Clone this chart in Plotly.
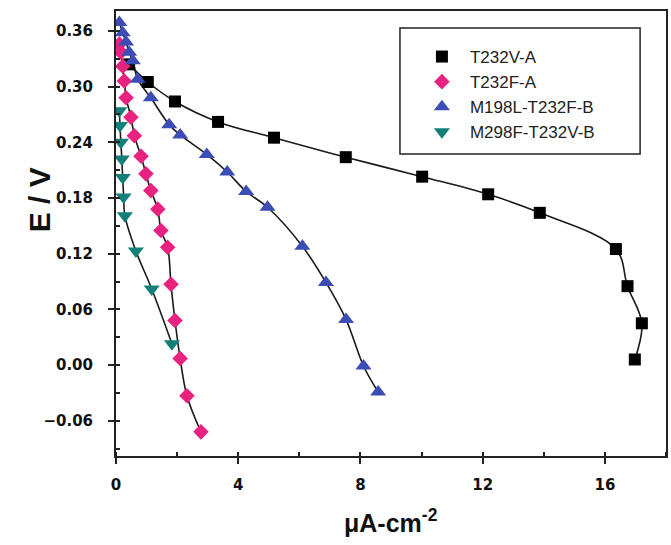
import plotly.graph_objects as go

# T232V-A (black squares)
t232v_x = [0.43, 1.04, 1.93, 3.34, 5.17, 7.52, 10.02, 12.18, 13.87, 16.36, 16.74, 17.21, 16.98]
t232v_y = [0.324, 0.305, 0.284, 0.262, 0.245, 0.224, 0.203, 0.184, 0.164, 0.125, 0.085, 0.045, 0.006]

# T232F-A (pink diamonds)
t232f_x = [0.11, 0.16, 0.22, 0.27, 0.33, 0.49, 0.60, 0.82, 0.98, 1.14, 1.37, 1.47, 1.69, 1.80, 1.93, 2.10, 2.32, 2.78]
t232f_y = [0.346, 0.337, 0.322, 0.306, 0.288, 0.267, 0.247, 0.225, 0.206, 0.188, 0.168, 0.145, 0.127, 0.087, 0.048, 0.007, -0.033, -0.072]

# M198L-T232F-B (blue triangles up)
m198_x = [0.11, 0.22, 0.33, 0.43, 0.55, 0.71, 1.14, 1.74, 2.10, 2.97, 3.64, 4.26, 4.96, 6.10, 6.87, 7.53, 8.10, 8.58]
m198_y = [0.369, 0.358, 0.348, 0.337, 0.328, 0.308, 0.288, 0.259, 0.248, 0.227, 0.208, 0.187, 0.170, 0.128, 0.089, 0.049, -0.001, -0.029]

# M298F-T232V-B (teal triangles down)
m298_x = [0.11, 0.13, 0.16, 0.19, 0.22, 0.25, 0.29, 0.65, 1.17, 1.83]
m298_y = [0.274, 0.258, 0.240, 0.222, 0.202, 0.181, 0.161, 0.123, 0.082, 0.023]

names = ["T232V-A", "T232F-A", "M198L-T232F-B", "M298F-T232V-B"]
colors = ["#000000", "#E8237F", "#3C4DB5", "#127F78"]
symbols = ["square", "diamond", "triangle-up", "triangle-down"]
sizes = [12, 12, 14, 14]
xs = [t232v_x, t232f_x, m198_x, m298_x]
ys = [t232v_y, t232f_y, m198_y, m298_y]

fig = go.Figure()
for x, y in zip(xs, ys):
    fig.add_trace(go.Scatter(x=x, y=y, mode="lines", line=dict(color="#1a1a1a", width=1.6, shape="spline", smoothing=1.0),
                             showlegend=False, hoverinfo="skip"))
for x, y, n, c, s, sz in zip(xs, ys, names, colors, symbols, sizes):
    fig.add_trace(go.Scatter(x=x, y=y, mode="markers", name=n,
                             marker=dict(color=c, symbol=s, size=sz, line=dict(width=0))))

axis_common = dict(showline=True, linecolor="#222", linewidth=2, mirror=True, showgrid=False, zeroline=False,
                   ticks="outside", ticklen=6, tickwidth=2, tickcolor="#222",
                   tickfont=dict(family="DejaVu Sans", size=15, color="#111", weight="bold"))

fig.update_xaxes(range=[0, 18], dtick=4, tick0=0, ticklabelstandoff=8,
                 minor=dict(dtick=2, ticks="inside", ticklen=4, tickwidth=1.5, tickcolor="#222"),
                 **axis_common)
fig.update_yaxes(range=[-0.098, 0.3815], dtick=0.06, tick0=0, tickformat=".2f", ticklabelstandoff=12,
                 minor=dict(dtick=0.03, ticks="inside", ticklen=4, tickwidth=1.5, tickcolor="#222"),
                 **axis_common)

# legend box
fig.add_shape(type="rect", xref="paper", yref="paper",
              x0=(401 - 116) / 552, x1=(642 - 116) / 552,
              y0=(456 - 154) / 445, y1=(456 - 28) / 445,
              line=dict(color="#222", width=1.5), fillcolor="white", layer="below")

fig.update_layout(
    width=671, height=545,
    margin=dict(l=116, r=3, t=11, b=89),
    paper_bgcolor="white", plot_bgcolor="white",
    showlegend=True,
    legend=dict(x=(415 - 116) / 552, y=(456 - 39) / 445, xanchor="left", yanchor="top",
                bgcolor="rgba(0,0,0,0)", borderwidth=0, itemwidth=46,
                font=dict(family="Arial, Liberation Sans", size=17, color="#222")),
    annotations=[
        dict(text="<b>E / V</b>", xref="paper", yref="paper", x=(40 - 116) / 552, y=(456 - 200) / 445,
             xanchor="center", yanchor="middle", showarrow=False,
             textangle=-90, font=dict(family="Arial, Liberation Sans", size=30, color="#111")),
        dict(text="<b>μA-cm<sup>-2</sup></b>", xref="paper", yref="paper", x=0.5, y=-0.145,
             xanchor="center", yanchor="middle", showarrow=False,
             font=dict(family="Arial, Liberation Sans", size=25, color="#111")),
    ],
)

fig.write_html("out.html")
